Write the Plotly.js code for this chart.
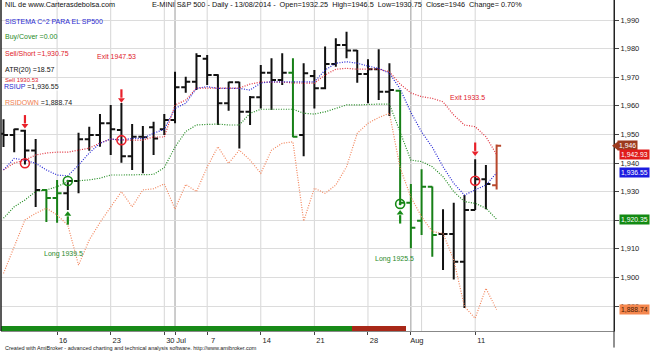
<!DOCTYPE html>
<html><head><meta charset="utf-8">
<script src="https://cdn.plot.ly/plotly-3.0.1.min.js"></script>
<style>html,body{margin:0;padding:0;background:#fff}#chart{width:650px;height:351px}</style>
</head><body><div id="chart"></div>
<script>
const dates = ['2014-06-09','2014-06-10','2014-06-11','2014-06-12','2014-06-13',
 '2014-06-16','2014-06-17','2014-06-18','2014-06-19','2014-06-20',
 '2014-06-23','2014-06-24','2014-06-25','2014-06-26','2014-06-27',
 '2014-06-30','2014-07-01','2014-07-02','2014-07-03',
 '2014-07-07','2014-07-08','2014-07-09','2014-07-10','2014-07-11',
 '2014-07-14','2014-07-15','2014-07-16','2014-07-17','2014-07-18',
 '2014-07-21','2014-07-22','2014-07-23','2014-07-24','2014-07-25',
 '2014-07-28','2014-07-29','2014-07-30','2014-07-31','2014-08-01',
 '2014-08-04','2014-08-05','2014-08-06','2014-08-07','2014-08-08',
 '2014-08-11','2014-08-12','2014-08-13'];
const openP  = [1950.2,1949.8,1951.3,1944.4,1930.6,1927.8,1929.4,1933.7,1948.3,1949.8,
 1953.9,1951.5,1942.4,1949.2,1952.5,1951.8,1955.0,1966.5,1968.4,1976.5,
 1970.8,1960.9,1968.2,1957.9,1963.0,1971.6,1969.0,1971.6,1949.8,1970.4,
 1966.1,1974.6,1981.3,1979.3,1971.1,1972.8,1964.9,1965.3,1926.1,1919.8,
 1931.7,1915.2,1915.2,1905.5,1923.6,1934.3,1932.25];
const highP  = [1955.3,1952.0,1951.6,1948.4,1930.8,1934.1,1934.1,1950.6,1952.7,1957.1,
 1960.3,1961.0,1953.6,1952.9,1954.4,1957.1,1971.9,1970.2,1978.4,1977.8,
 1971.0,1968.4,1968.4,1963.4,1974.3,1976.6,1978.4,1976.6,1974.9,1972.5,
 1980.7,1983.6,1985.9,1979.5,1976.3,1979.8,1974.9,1965.5,1932.7,1937.8,
 1931.8,1923.8,1926.1,1928.8,1941.3,1939.3,1946.5];
const lowP   = [1945.6,1943.8,1939.5,1924.6,1919.4,1919.1,1923.6,1929.4,1944.3,1945.7,
 1942.8,1940.1,1937.6,1936.4,1942.8,1949.8,1953.9,1964.6,1965.5,1967.3,
 1953.3,1958.3,1945.1,1953.3,1959.1,1958.5,1967.3,1949.0,1942.4,1959.1,
 1965.8,1973.7,1976.6,1968.1,1960.9,1962.0,1956.4,1925.3,1910.2,1914.8,
 1907.2,1902.6,1899.3,1889.3,1923.6,1923.8,1930.75];
const closeP = [1949.8,1951.8,1944.4,1930.6,1927.8,1929.4,1933.7,1948.3,1949.8,1953.9,
 1951.8,1942.4,1949.2,1949.0,1948.6,1955.0,1966.5,1968.4,1977.4,1970.8,
 1960.9,1968.2,1957.9,1963.0,1971.6,1969.0,1971.6,1949.2,1971.4,1966.1,
 1974.6,1981.3,1979.3,1971.1,1972.8,1964.9,1965.5,1926.1,1917.4,1931.7,
 1914.8,1915.2,1905.5,1923.6,1934.3,1932.7,1946.0];
// n = normal (black), g = long (green), b = last bar (brown)
const barColor = ['n','n','n','n','g','g','n','n','n','n',
 'n','n','n','n','n','n','n','n','n','n',
 'n','n','n','n','n','n','n','g','n','n',
 'n','n','n','n','n','n','n','g','g','g',
 'g','n','n','n','n','n','b'];
const redLine = [1937.6,1940.0,1941.0,1942.8,1943.5,1943.8,1943.8,1944.5,1945.2,1947.0,
 1948.4,1948.0,1948.0,1948.0,1949.1,1949.1,1960.3,1962.0,1966.2,1966.2,
 1966.2,1966.2,1966.2,1967.6,1968.3,1968.3,1968.3,1968.0,1967.9,1967.9,
 1970.8,1972.8,1973.1,1972.8,1972.8,1972.8,1971.9,1967.6,1964.5,1963.2,
 1962.6,1961.4,1956.8,1953.3,1952.7,1949.2,1942.93];
const blueLine = [1937.6,1941.6,1941.0,1939.9,1937.6,1935.8,1935.5,1939.3,1943.5,1946.9,
 1948.4,1948.0,1948.6,1948.6,1950.4,1951.8,1959.1,1960.9,1966.1,1966.7,
 1966.1,1966.1,1966.1,1965.5,1968.0,1968.4,1968.4,1968.4,1968.4,1968.4,
 1972.5,1974.9,1975.4,1974.9,1973.9,1973.1,1971.4,1965.9,1957.7,1950.9,
 1945.5,1938.7,1932.9,1928.8,1930.6,1932.3,1936.55];
const greenLine = [1920.7,1924.7,1927.1,1930.0,1930.6,1931.7,1933.5,1933.7,1934.1,1934.7,
 1935.8,1935.8,1935.8,1935.8,1936.0,1938.4,1945.6,1951.0,1953.3,1953.5,
 1953.6,1953.3,1953.3,1957.4,1958.8,1958.8,1958.8,1958.8,1957.4,1957.1,
 1957.9,1959.2,1960.3,1960.3,1960.5,1960.6,1960.6,1950.9,1941.0,1940.5,
 1938.7,1935.2,1930.0,1926.5,1925.9,1924.2,1920.35];
const orangeLine = [1901.4,1910.7,1920.1,1922.4,1924.2,1921.8,1918.3,1904.3,1913.1,1919.2,
 1924.7,1930.0,1924.7,1930.6,1931.0,1932.7,1923.9,1932.5,1930.0,1938.6,
 1945.7,1939.9,1944.5,1941.0,1936.4,1944.5,1946.9,1947.4,1919.7,1931.2,
 1929.4,1932.3,1938.7,1950.4,1953.9,1955.9,1957.4,1938.3,1928.1,1921.2,
 1916.0,1915.4,1906.1,1889.8,1885.7,1896.2,1888.74];
const sellIdx = [2, 11, 44];
const sellArrow = [1954.1, 1963.1, 1944.5];
const sellPrice = [1939.9, 1948.0, 1933.8];
const buyIdx = [6, 37];
const buyArrow = [1921.1, 1921.5];
const buyPrice = [1933.7, 1925.7];
const ribbon = ['g','g','g','g','g','g','g','g','g','g','g','g','g','g','g','g','g','g','g','g',
 'g','g','g','g','g','g','g','g','g','g','g','g','g','r','r','r','r','r','','','','','','','','',''];
const tickDates = ['2014-06-16','2014-06-23','2014-06-30','2014-07-01','2014-07-07','2014-07-14','2014-07-21','2014-07-28','2014-08-01','2014-08-11'];
const tickText = ['16','23','30','Jul','7','14','21','28','Aug','11'];

const FONT = 'Arial, "Liberation Sans", sans-serif';
const barCols = {n:'#111111', g:'#178017', b:'#b8482c'};
const RED = '#e8202a', GREEN = '#168a16';
const traces = [];
function dotted(y, color){
  return {type:'scatter', mode:'lines', x:dates, y:y, line:{color:color, width:1.2, dash:'1px,1.5px'}, hoverinfo:'skip'};
}
traces.push(dotted(orangeLine,'#f2855c'));
traces.push(dotted(greenLine,'#1f8a1f'));
traces.push(dotted(redLine,'#e0303c'));
traces.push(dotted(blueLine,'#2424d4'));
// ribbon
traces.push({type:'bar', x:dates, y:ribbon.map(r=>r?1:null), yaxis:'y2', width:1,
  marker:{color:ribbon.map(r=>r==='g'?'#178a17':'#a82818'), line:{width:0}}, hoverinfo:'skip'});
Object.keys(barCols).forEach(k=>{
  const pick = a => a.map((v,i)=>barColor[i]===k?v:null);
  traces.push({type:'ohlc', x:dates, open:pick(openP), high:pick(highP), low:pick(lowP), close:pick(closeP),
    tickwidth:0.42, increasing:{line:{color:barCols[k], width:2}}, decreasing:{line:{color:barCols[k], width:2}}, hoverinfo:'skip'});
});
// signals
traces.push({type:'scatter', mode:'markers', x:sellIdx.map(i=>dates[i]), y:sellArrow.map(v=>v+1.2),
  marker:{symbol:'line-ns', size:6, color:RED, line:{color:RED, width:2.2}}, hoverinfo:'skip'});
traces.push({type:'scatter', mode:'markers', x:sellIdx.map(i=>dates[i]), y:sellArrow.map(v=>v-1.0),
  marker:{symbol:'triangle-down', size:6, color:RED, line:{width:0}}, hoverinfo:'skip'});
traces.push({type:'scatter', mode:'markers', x:sellIdx.map(i=>dates[i]), y:sellPrice,
  marker:{symbol:'circle-open', size:9, color:RED, line:{color:RED, width:1.6}}, hoverinfo:'skip'});
traces.push({type:'scatter', mode:'markers', x:buyIdx.map(i=>dates[i]), y:buyArrow.map(v=>v-1.2),
  marker:{symbol:'line-ns', size:6, color:GREEN, line:{color:GREEN, width:2.2}}, hoverinfo:'skip'});
traces.push({type:'scatter', mode:'markers', x:buyIdx.map(i=>dates[i]), y:buyArrow.map(v=>v+1.0),
  marker:{symbol:'triangle-up', size:6, color:GREEN, line:{width:0}}, hoverinfo:'skip'});
traces.push({type:'scatter', mode:'markers', x:buyIdx.map(i=>dates[i]), y:buyPrice,
  marker:{symbol:'circle-open-dot', size:9, color:GREEN, line:{color:GREEN, width:1.6}}, hoverinfo:'skip'});

const W=650, H=351, ML=1, MR=36, MT=0, MB=20;
const PW = W-ML-MR, PH = H-MT-MB;
const px = x => (x-ML)/PW, py = y => 1-(y-MT)/PH;

const shapes = [];
// vertical grid lines at new weeks / months
for(let i=1;i<dates.length;i++){
  const d = new Date(dates[i]+'T00:00:00Z'), p = new Date(dates[i-1]+'T00:00:00Z');
  const newMonth = d.getUTCMonth()!==p.getUTCMonth();
  const newWeek = d.getUTCDay() < p.getUTCDay();
  if(newMonth || newWeek){
    shapes.push({type:'line', xref:'x', yref:'paper', x0:i, x1:i, y0:0, y1:1, layer:'below',
      line:{color: newMonth ? '#9a9a9a' : '#d6d6d6', width:1}});
  }
}
shapes.push({type:'line', xref:'paper', yref:'paper', x0:0, x1:0, y0:0, y1:1, line:{color:'#222', width:1.5}});
shapes.push({type:'line', xref:'paper', yref:'paper', x0:1, x1:1, y0:1, y1:-0.05, line:{color:'#222', width:1}});
// pointer of last close tag
shapes.push({type:'path', xref:'paper', yref:'y', path:`M ${px(612)} ${closeP[46]} L ${px(618)} ${closeP[46]+1.5} L ${px(618)} ${closeP[46]-1.5} Z`,
  fillcolor:'#9c3a1e', line:{width:0}});

const ann = [];
function txt(t, x, y, size, color, extra){
  ann.push(Object.assign({text:t, xref:'paper', yref:'paper', x:px(x), y:py(y), xanchor:'left', yanchor:'middle',
    showarrow:false, font:{family:FONT, size:size, color:color}}, extra||{}));
}
txt('NIL de www.Carterasdebolsa.com', 3, 5, 7.3, '#111');
txt('E-MINI S&P 500 - Daily - 13/08/2014 - &nbsp;Open=1932.25 &nbsp;High=1946.5 &nbsp;Low=1930.75 &nbsp;Close=1946 &nbsp;Change= 0.70%', 150, 5, 7.3, '#111');
txt('SISTEMA C^2 PARA EL SP500', 3, 21, 7, '#2a2ad0');
txt('Buy/Cover =0.00', 3, 37, 7, '#1f8a1f');
txt('Sell/Short =1,930.75', 3, 53.5, 7, '#e0202a');
txt('ATR(20) =18.57', 3, 70, 7, '#111');
txt('Sell 1930.53', 3, 80, 6, '#e0202a');
txt('<span style="color:#2a2ad0">RSIUP</span> =1,936.55', 3, 87, 7, '#222', {bgcolor:'rgba(255,255,255,0.85)', borderpad:0});
txt('<span style="color:#f08050">RSIDOWN</span> =1,888.74', 3, 103, 7, '#222');
txt('Created with AmiBroker - advanced charting and technical analysis software. http://www.amibroker.com', 3, 347.5, 5.5, '#222');
// chart annotations
function dtxt(t, xi, yv, color){
  ann.push({text:t, xref:'x', yref:'y', x:xi, y:yv, xanchor:'center', yanchor:'middle', showarrow:false,
    font:{family:FONT, size:7, color:color}});
}
dtxt('Exit 1947.53', 10.56, 1977.2, '#e0202a');
dtxt('Exit 1933.5', 43.27, 1963.0, '#e0202a');
dtxt('Long 1939.5', 5.58, 1908.2, '#2a8a2a');
dtxt('Long 1925.5', 36.52, 1906.3, '#2a8a2a');
// right value tags
function tag(t, v, bg, fc, x){
  ann.push({text:t, xref:'paper', yref:'y', x:px(x), y:v, xanchor:'left', yanchor:'middle', showarrow:false,
    bgcolor:bg, borderpad:1, font:{family:FONT, size:6.8, color:fc}});
}
tag('1,946', closeP[46], '#9c3a1e', '#fff', 617);
tag('1,942.93', redLine[46], '#e01c1c', '#fff', 619);
tag('1,936.55', blueLine[46], '#1c1ce0', '#fff', 619);
tag('1,920.35', greenLine[46], '#138a13', '#fff', 619);
tag('1,888.74', orangeLine[46], '#f5874e', '#4a1a00', 619);

const layout = {
  width:W, height:H, margin:{l:ML, r:MR, t:MT, b:MB, pad:0},
  paper_bgcolor:'#fff', plot_bgcolor:'#fff', showlegend:false, bargap:0,
  xaxis:{type:'category', categoryorder:'array', categoryarray:dates,
    range:[-0.233, 56.95], tickvals:tickDates, ticktext:tickText, tickangle:0,
    ticks:'outside', ticklen:3, tickcolor:'#444', showgrid:false, zeroline:false,
    showline:true, linecolor:'#888', linewidth:1, ticklabelshift:6, ticklabelstandoff:-1, automargin:false,
    tickfont:{family:FONT, size:7.5, color:'#222'}, rangeslider:{visible:false}, fixedrange:true},
  yaxis:{side:'right', range:[1881.26, 1997.0], dtick:10, tick0:1890, tickformat:',d',
    ticks:'outside', ticklen:4, tickcolor:'#444', showline:true, linecolor:'#222', linewidth:1,
    gridcolor:'#dcdcdc', gridwidth:1, zeroline:false, automargin:false,
    tickfont:{family:FONT, size:7.5, color:'#222'}, fixedrange:true},
  yaxis2:{overlaying:'y', range:[0,62], visible:false, fixedrange:true},
  shapes:shapes, annotations:ann
};
Plotly.newPlot('chart', traces, layout, {displayModeBar:false, staticPlot:true});
</script></body></html>
